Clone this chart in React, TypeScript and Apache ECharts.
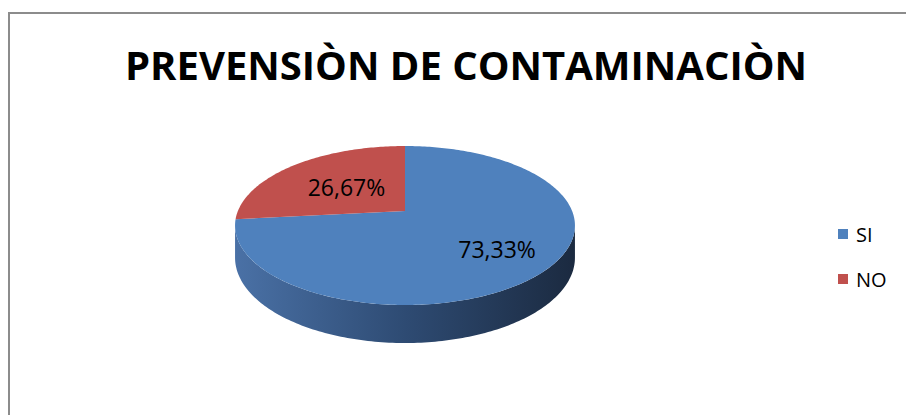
import React, { useEffect, useRef } from 'react';
import * as echarts from 'echarts';

const title = 'PREVENSIÒN DE CONTAMINACIÒN';
const categories = ['SI', 'NO'];
const values = [73.33, 26.67];
const labelTexts = ['73,33%', '26,67%'];
const colors = ['#4f81bd', '#c0504d'];

// 3D pie projection layout
const CX = 405;
const CY = 211;
const RX = 167.1;
const RY = 76.86;
const PERSP = 0.1824;
const DEPTH = 31.07;
const LABEL_RADIUS = [0.68, 0.5];

const total = values.reduce((s, v) => s + v, 0);
const starts: number[] = [];
values.reduce((acc, v) => {
  starts.push(acc);
  return acc + v;
}, 0);

function proj(psiDeg: number, r: number, down: boolean): number[] {
  const t = (psiDeg * Math.PI) / 180;
  const X = r * Math.sin(t);
  const Z = -r * Math.cos(t);
  const w = 1 - PERSP * Z;
  return [CX + (RX * X) / w, CY + (RY * Z + (down ? DEPTH : 0)) / w];
}

const VIS_A = (Math.acos(-PERSP) * 180) / Math.PI;
const VIS_B = 360 - VIS_A;

function makeRender(idx: number) {
  return (params: any, api: any) => {
    const v = api.value(0);
    const s = api.value(1);
    const p1 = (s / total) * 360;
    const p2 = ((s + v) / total) * 360;
    const color = colors[idx];
    const children: any[] = [];
    const a = Math.max(p1, VIS_A);
    const b = Math.min(p2, VIS_B);
    if (b > a) {
      const pts: number[][] = [];
      const n = Math.max(2, Math.ceil(b - a));
      for (let i = 0; i <= n; i++) pts.push(proj(a + ((b - a) * i) / n, 1, false));
      for (let i = n; i >= 0; i--) pts.push(proj(a + ((b - a) * i) / n, 1, true));
      children.push({
        type: 'polygon',
        shape: { points: pts },
        style: {
          fill: new echarts.graphic.LinearGradient(0, 0, 1, 0, [
            { offset: 0, color: '#4a71a6' },
            { offset: 0.5, color: '#2e4b73' },
            { offset: 1, color: '#1b2a40' },
          ]),
          stroke: null,
        },
      });
    }
    const top: number[][] = [[CX, CY]];
    const n2 = Math.max(2, Math.ceil(p2 - p1));
    for (let i = 0; i <= n2; i++) top.push(proj(p1 + ((p2 - p1) * i) / n2, 1, false));
    children.push({
      type: 'polygon',
      shape: { points: top },
      style: { fill: color, stroke: null },
    });
    const lp = proj((p1 + p2) / 2, LABEL_RADIUS[idx], false);
    children.push({
      type: 'text',
      x: lp[0],
      y: lp[1],
      style: {
        text: labelTexts[idx],
        fill: '#000',
        font: '23px "Open Sans"',
        textAlign: 'center',
        textVerticalAlign: 'middle',
      },
    });
    return { type: 'group', children };
  };
}

export default function App() {
  const ref = useRef<HTMLDivElement>(null);
  useEffect(() => {
    if (!ref.current) return;
    const chart = echarts.init(ref.current, null, { renderer: 'svg' });
    chart.setOption({
      animation: false,
      backgroundColor: '#ffffff',
      graphic: [
        {
          type: 'rect',
          shape: { x: 9, y: 13, width: 1000, height: 500 },
          style: { fill: 'none', stroke: '#8c8c8c', lineWidth: 2 },
          silent: true,
        },
        {
          type: 'text',
          x: 466,
          y: 64,
          style: {
            text: title,
            fill: '#000',
            font: 'bold 40px "Open Sans"',
            textAlign: 'center',
            textVerticalAlign: 'middle',
          },
        },
      ],
      legend: {
        orient: 'vertical',
        left: 833,
        top: 218,
        itemWidth: 10,
        itemHeight: 10,
        itemGap: 23,
        icon: 'rect',
        data: categories,
        textStyle: {
          fontFamily: 'Open Sans',
          fontSize: 20,
          color: '#000',
          lineHeight: 22,
          padding: [0, 0, 0, 3],
        },
      },
      series: categories.map((name, i) => ({
        type: 'custom',
        name,
        coordinateSystem: 'none',
        renderItem: makeRender(i),
        itemStyle: { color: colors[i] },
        data: [[values[i], starts[i]]],
        silent: true,
      })),
    });
    return () => chart.dispose();
  }, []);
  return (
    <div
      ref={ref}
      style={{ position: 'fixed', left: 0, top: 0, width: 906, height: 415 }}
    />
  );
}
